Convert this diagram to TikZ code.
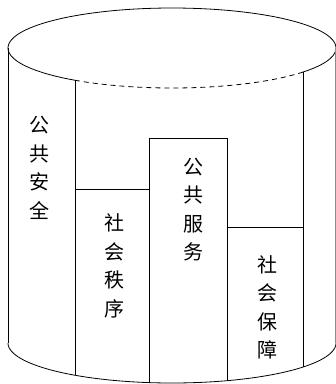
\documentclass[tikz,border=0pt]{standalone}
\usepackage{fontspec}
\newfontfamily\cjk{Noto Sans CJK SC}
\begin{document}
\begin{tikzpicture}[x=1pt,y=-1pt,
  edge/.style={line width=0.8pt,black},
  lbl/.style={font=\cjk\fontsize{20}{28.5}\selectfont,align=center,inner sep=0pt}]
\useasboundingbox (0,0) rectangle (336,384);
% top ellipse
\draw[edge] plot[domain=180:360,samples=80,smooth] ({172+164*cos(\x)},{48+40*sin(\x)});
\draw[edge] plot[domain=126.26:180,samples=30,smooth] ({172+164*cos(\x)},{48+40*sin(\x)});
\draw[edge] plot[domain=0:36.99,samples=20,smooth] ({172+164*cos(\x)},{48+40*sin(\x)});
\draw[edge,dashed,dash pattern=on 5pt off 4pt] plot[domain=36.99:126.26,samples=50,smooth] ({172+164*cos(\x)},{48+40*sin(\x)});
% sides
\draw[edge] (8,48) -- (8,343);
\draw[edge,black!45] (335.5,48) -- (335.5,343);
% bottom arc
\draw[edge] plot[domain=0:180,samples=100,smooth] ({172+164*cos(\x)},{343+40*sin(\x)});
% columns
\draw[edge] (75,80) -- (75,375.3);
\draw[edge] (75,189) -- (149,189);
\draw[edge] (149,138) -- (149,382.6);
\draw[edge] (149,138) -- (227,138);
\draw[edge] (227,138) -- (227,380.7);
\draw[edge] (227,227) -- (303,227);
\draw[edge] (303,72) -- (303,367);
% labels
\node[lbl] (aq) at (40,168) {公\\共\\安\\全};
\node[lbl] (zx) at (114,266) {社\\会\\秩\\序};
\node[lbl] (fw) at (193,209.5) {公\\共\\服\\务};
\node[lbl] (bz) at (268,307.5) {社\\会\\保\\障};
\end{tikzpicture}
\end{document}
